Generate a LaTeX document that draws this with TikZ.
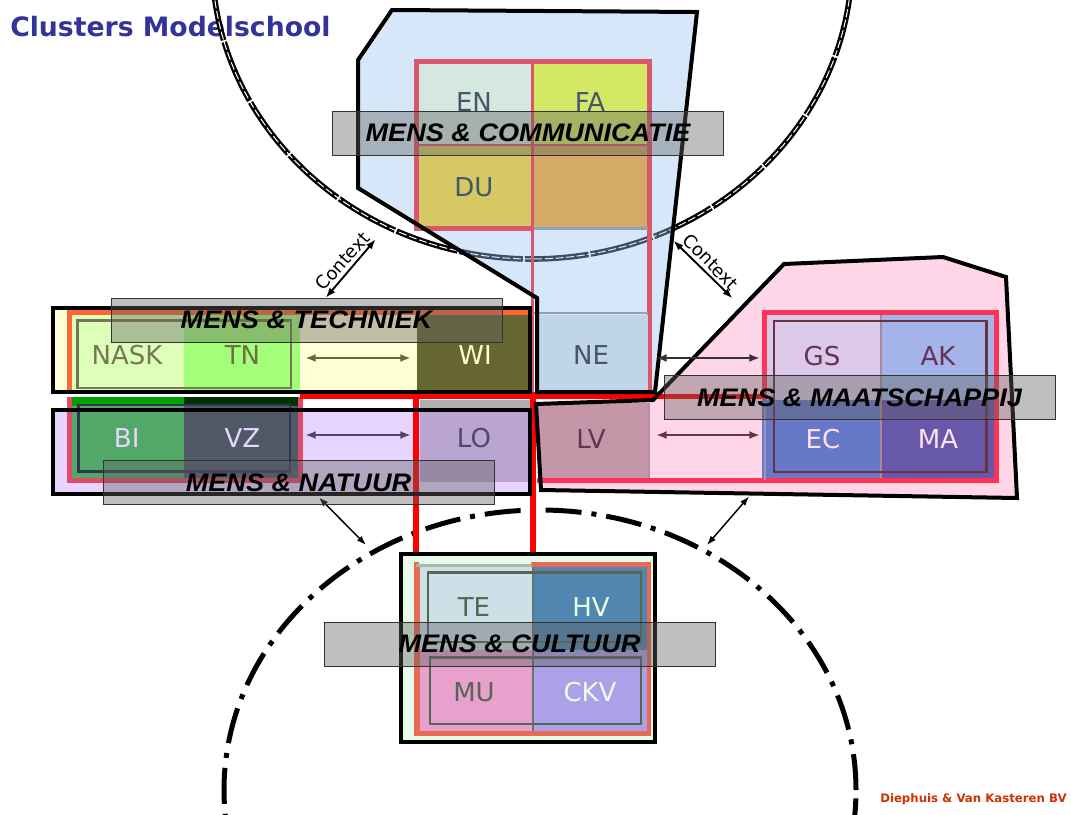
\documentclass[tikz,border=0pt]{standalone}
\usepackage{fontspec}
\setmainfont{DejaVu Sans}
\newfontfamily\lblfont{Liberation Sans}[FakeStretch=1.07]
\usetikzlibrary{arrows.meta}
\definecolor{titleblue}{HTML}{333399}
\definecolor{credred}{HTML}{CC3300}
\definecolor{bluepoly}{RGB}{150,197,242}
\definecolor{pinkpoly}{HTML}{FFD5E8}
\definecolor{commred}{HTML}{D9566B}
\definecolor{gridblue}{HTML}{8DA2B8}
\definecolor{cEN}{HTML}{D5E8E0}
\definecolor{cFA}{HTML}{D5E865}
\definecolor{cDU}{HTML}{D6C964}
\definecolor{cOR}{HTML}{D4AA66}
\definecolor{cNE}{HTML}{C0D4EA}
\definecolor{cLV}{HTML}{C496A8}
\definecolor{techbg}{HTML}{FFFFD5}
\definecolor{techor}{HTML}{FF6633}
\definecolor{cNASK}{HTML}{DDFFB8}
\definecolor{cTN}{HTML}{A2FF77}
\definecolor{cWI}{HTML}{666633}
\definecolor{techfr}{HTML}{777755}
\definecolor{natbg}{HTML}{E8D5FF}
\definecolor{natred}{HTML}{E04A6A}
\definecolor{cBI}{HTML}{52A866}
\definecolor{cBIb}{HTML}{00A000}
\definecolor{cVZ}{HTML}{505A66}
\definecolor{cVZb}{HTML}{003300}
\definecolor{natfr}{HTML}{333355}
\definecolor{cLO}{HTML}{B9A5D0}
\definecolor{cLOb}{HTML}{B0B0B0}
\definecolor{gridred}{HTML}{FF0000}
\definecolor{maatred}{HTML}{FF3355}
\definecolor{cGS}{HTML}{DCC8E8}
\definecolor{cAK}{HTML}{A4B4E8}
\definecolor{cEC}{HTML}{6878C8}
\definecolor{cMA}{HTML}{6858AA}
\definecolor{maatfr}{HTML}{663344}
\definecolor{maatdiv}{HTML}{AA8899}
\definecolor{maatgl}{HTML}{9A9AB8}
\definecolor{lvgl}{HTML}{B0909F}
\definecolor{cultbg}{HTML}{E8FAE8}
\definecolor{cultor}{HTML}{E86A55}
\definecolor{cultgl}{HTML}{A8B8A8}
\definecolor{cTE}{HTML}{CCE0E8}
\definecolor{cHV}{HTML}{5086B0}
\definecolor{cMU}{HTML}{E8A0CC}
\definecolor{cCKV}{HTML}{ACA0E8}
\definecolor{cultfr}{HTML}{556655}
\definecolor{cultdiv}{HTML}{667766}
\definecolor{lblgray}{RGB}{96,96,96}
\definecolor{lblline}{HTML}{333333}
\definecolor{tBlue}{HTML}{44556E}
\definecolor{tOlive}{HTML}{777755}
\definecolor{tTN}{HTML}{6E7046}
\definecolor{tWI}{HTML}{FFFFCC}
\definecolor{tLav}{HTML}{E8D5FF}
\definecolor{tLO}{HTML}{554477}
\definecolor{tMauve}{HTML}{663355}
\definecolor{tPink}{HTML}{FFE0F0}
\definecolor{tGreen}{HTML}{556655}
\definecolor{tMint}{HTML}{E8FFE8}
\definecolor{aTech}{HTML}{666644}
\definecolor{aNat}{HTML}{554466}
\definecolor{aMaat}{HTML}{333333}
\definecolor{aMaatb}{HTML}{663344}
\tikzset{
  celltxt/.style={inner sep=0pt, font=\fontsize{19.5}{20}\selectfont},
  lbl/.style={draw=lblline, line width=0.75pt, fill=lblgray, fill opacity=0.4,
    text opacity=1, text=black, minimum width=293.25pt, minimum height=33pt,
    inner sep=0pt, font=\lblfont\bfseries\itshape\fontsize{19}{20}\selectfont},
  blackframe/.style={draw=black, line width=3pt},
  rowarrow/.style={line width=1.6pt, {Latex[length=8pt,width=6pt]}-{Latex[length=8pt,width=6pt]}},
  ctxarrow/.style={line width=1.4pt, {Latex[length=7.5pt,width=5.5pt]}-{Latex[length=7.5pt,width=5.5pt]}},
  botarrow/.style={line width=1.1pt, {Latex[length=7pt,width=5pt]}-{Latex[length=7pt,width=5pt]}},
  ctxtxt/.style={font=\fontsize{13.5}{14}\selectfont, inner sep=3pt},
}
\begin{document}
\begin{tikzpicture}[x=0.75pt,y=-0.75pt]
\useasboundingbox (0,0) rectangle (1071,814);
\clip (0,0) rectangle (1071,814);
\fill[white] (0,0) rectangle (1071,814);

% title and credit
\node[anchor=base west, inner sep=0pt, text=titleblue, font=\bfseries\fontsize{20}{20}\selectfont] (title) at (10,36.5) {Clusters Modelschool};
\node[anchor=base west, inner sep=0pt, text=credred, font=\bfseries\fontsize{8.8}{9}\selectfont] (credit) at (880,802) {Diephuis \& Van Kasteren BV};

% context ellipses
\draw[black, line width=4.2pt, dash pattern=on 48pt off 1.5pt] (532,-40) ellipse [x radius=240pt, y radius=224.25pt];
\draw[white, line width=0.75pt, dash pattern=on 6pt off 2pt] (532,-40) ellipse [x radius=240pt, y radius=224.25pt];
\draw[black, line width=3.75pt, dash pattern=on 27pt off 7.5pt on 3.75pt off 7.5pt] (540,790) ellipse [x radius=237pt, y radius=210pt];

% polygon fills
\fill[bluepoly, fill opacity=0.4] (392,10) -- (697,12) -- (655,392) -- (537,392) -- (537,298) -- (358,188) -- (358,60) -- cycle;
\fill[pinkpoly] (784,264) -- (943,257) -- (1006,277) -- (1017,498) -- (541,490) -- (536,404) -- (653,400) -- cycle;

% communication block
\fill[cEN] (418,62) rectangle (532,145);
\fill[cFA] (532,62) rectangle (648,145);
\fill[cDU] (418,145) rectangle (532,229);
\fill[cOR] (532,145) rectangle (648,229);
\draw[commred, line width=2pt] (416,145) -- (648,145);
\draw[commred, line width=3.75pt] (532,228.5) -- (416.5,228.5) -- (416.5,61.5) -- (649,61.5) -- (649,400);
\draw[commred, line width=2.6pt] (532.5,61.5) -- (532.5,396);

% centre column
\fill[cNE] (538,314.5) rectangle (647.5,392);
\fill[cLV] (538,403) rectangle (648,479);
\draw[gridblue, line width=2.2pt] (534,228.5) -- (647.5,228.5);
\draw[gridblue, line width=2.2pt] (534,313) -- (647.5,313);
\draw[lvgl, line width=1.5pt] (649,403) -- (649,479);

% techniek row
\fill[techbg] (53,308) rectangle (529.5,391.5);
\fill[techor] (67,310) rectangle (529.5,314.5);
\fill[techor] (67,310) rectangle (72,391.5);
\fill[cNASK] (72,314.5) rectangle (184,390);
\fill[cTN] (184,314.5) rectangle (300,390);
\fill[cWI] (417,314.5) rectangle (529.5,390);
\draw[techfr, line width=1.9pt] (77.5,320.5) rectangle (291,388);

% natuur row
\fill[natbg] (53,410) rectangle (529.5,494);
\fill[natred] (67,397) rectangle (303,483);
\fill[cBI] (72,397) rectangle (184,478);
\fill[cBIb] (72,397) rectangle (184,406);
\fill[cVZ] (184,397) rectangle (298,478);
\fill[cVZb] (184,397) rectangle (298,406);
\draw[natfr, line width=2.2pt] (78.5,405) rectangle (290,471.5);
\fill[cLO] (420,400) rectangle (529.5,481.5);
\fill[cLOb] (420,400) rectangle (529.5,408);

% red grid
\draw[gridred, line width=3.75pt] (300,396.5) -- (765,396.5);
\draw[gridred, line width=4.5pt] (416,396) -- (416,556);
\draw[gridred, line width=4.5pt] (533,392) -- (533,556);

% row frames
\draw[blackframe] (53,308) rectangle (529.5,391.5);
\draw[blackframe] (53,410) rectangle (529.5,494);

% maatschappij block
\fill[maatred] (762,310) rectangle (999,483);
\fill[cGS] (767,315) rectangle (881,400);
\fill[cAK] (881,315) rectangle (994,400);
\fill[cEC] (762,400) rectangle (881,478);
\fill[cMA] (881,400) rectangle (994,478);
\draw[maatred, line width=3.75pt] (537,480.5) -- (999,480.5);
\draw[maatgl, line width=1.5pt] (765,403) -- (765,480);
\draw[maatdiv, line width=1.5pt] (881,315) -- (881,478);
\draw[maatfr, line width=2.2pt] (774,321) rectangle (986.5,472);

% cultuur block
\fill[cultbg] (400.7,554) rectangle (655.3,741.5);
\fill[cultor] (414,562) rectangle (651,736);
\fill[cultbg] (419,556) rectangle (531,564);
\draw[cultgl, line width=2.2pt] (416,565.5) -- (532,565.5);
\fill[cTE] (420,567) rectangle (533,650);
\fill[cHV] (533,567) rectangle (647,650);
\fill[cMU] (420,650) rectangle (533,731);
\fill[cCKV] (533,650) rectangle (647,731);
\draw[cultdiv, line width=0.8pt] (533,567) -- (533,731);
\draw[cultfr, line width=2.2pt] (428,572.5) rectangle (641,642);
\draw[cultfr, line width=2.2pt] (430,657.5) rectangle (641,724);
\draw[blackframe] (400.7,554) rectangle (655.3,741.5);

% polygon borders
\draw[black, line width=3pt] (392,10) -- (697,12) -- (655,392) -- (537,392) -- (537,298) -- (358,188) -- (358,60) -- cycle;
\draw[black, line width=3pt] (784,264) -- (943,257) -- (1006,277) -- (1017,498) -- (541,490) -- (536,404) -- (653,400) -- cycle;

% cell texts
\node[celltxt, text=tBlue] (en) at (474,102.5) {EN};
\node[celltxt, text=tBlue] (fa) at (590,102.5) {FA};
\node[celltxt, text=tBlue] (du) at (474,187.5) {DU};
\node[celltxt, text=tOlive] (nask) at (127,355) {NASK};
\node[celltxt, text=tTN] (tn) at (242.5,355) {TN};
\node[celltxt, text=tWI] (wi) at (475,355) {WI};
\node[celltxt, text=tBlue] (ne) at (591,355) {NE};
\node[celltxt, text=tLav] (bi) at (126.7,438.3) {BI};
\node[celltxt, text=tLav] (vz) at (242.5,438.3) {VZ};
\node[celltxt, text=tLO] (lo) at (474,438.3) {LO};
\node[celltxt, text=tMauve] (lv) at (591,439) {LV};
\node[celltxt, text=tMauve] (gs) at (822,356) {GS};
\node[celltxt, text=tMauve] (ak) at (938,356) {AK};
\node[celltxt, text=tPink] (ec) at (823,439.5) {EC};
\node[celltxt, text=tPink] (ma) at (938,439.5) {MA};
\node[celltxt, text=tGreen] (te) at (474,607.5) {TE};
\node[celltxt, text=tMint] (hv) at (591,607.5) {HV};
\node[celltxt, text=tGreen] (mu) at (474,692) {MU};
\node[celltxt, text=tMint] (ckv) at (590,692) {CKV};

% row arrows
\coordinate (ta1) at (305,358); \coordinate (ta2) at (411,358);
\coordinate (na1) at (305,435); \coordinate (na2) at (411,435);
\coordinate (ma1) at (656,358); \coordinate (ma2) at (760,358);
\coordinate (mb1) at (656,435); \coordinate (mb2) at (760,435);
\draw[rowarrow, aTech] (ta1) -- (ta2);
\draw[rowarrow, aNat] (na1) -- (na2);
\draw[rowarrow, aMaat] (ma1) -- (ma2);
\draw[rowarrow, aMaatb] (mb1) -- (mb2);

% bottom context arrows
\coordinate (bLa) at (319,497.5); \coordinate (bLb) at (366,545);
\coordinate (bRa) at (749,496.5); \coordinate (bRb) at (707,545);
\draw[botarrow, black] (bLa) -- (bLb);
\draw[botarrow, black] (bRa) -- (bRb);

% cluster labels
\node[lbl] (lcomm) at (528,133) {MENS \& COMMUNICATIE};
\node[lbl] (ltech) at (306.5,320) {MENS \& TECHNIEK};
\node[lbl] (lnat) at (298.5,482.5) {MENS \& NATUUR};
\node[lbl] (lmaat) at (859.5,397.5) {MENS \& MAATSCHAPPIJ};
\node[lbl] (lcult) at (519.5,644) {MENS \& CULTUUR};

% top context arrows
\coordinate (ctxLa) at (375.6,239.3); \coordinate (ctxLb) at (325.8,297.7);
\coordinate (ctxRa) at (673.5,240.7); \coordinate (ctxRb) at (732.5,298.3);
\draw[ctxarrow, black] (ctxLa) -- (ctxLb);
\draw[ctxarrow, black] (ctxRa) -- (ctxRb);
\node[ctxtxt, rotate=48, anchor=south] (ctxL) at (350.7,268.5) {Context};
\node[ctxtxt, rotate=-46, anchor=south] (ctxR) at (703,269.5) {Context};
\end{tikzpicture}
\end{document}
